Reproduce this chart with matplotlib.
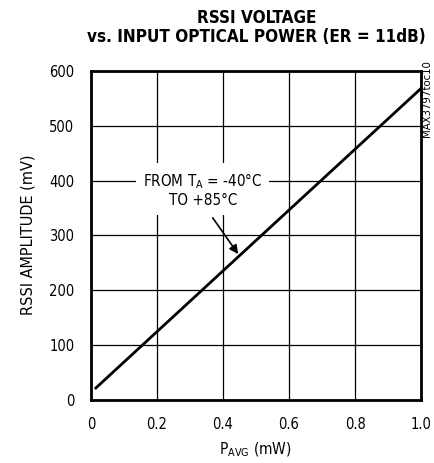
import os
import matplotlib.pyplot as plt
from matplotlib import font_manager as fm


# ---- find a condensed face (regular + bold) ----
def weight_of(f):
    w = f.weight
    if isinstance(w, str):
        w = fm.weight_dict.get(w, 400)
    return int(w)


def find_faces():
    good, other = [], []
    for f in fm.fontManager.ttflist:
        tag = (f.name + os.path.basename(f.fname)).replace(' ', '')
        if f.style != 'normal':
            continue
        if 'Condensed' not in tag and 'Narrow' not in tag:
            continue
        if 'SemiCondensed' in tag or 'ExtraCondensed' in tag or 'UltraCondensed' in tag:
            other.append(f)
        else:
            good.append(f)
    pool = good or other
    if not pool:
        return None, None
    reg = min(pool, key=lambda f: abs(weight_of(f) - 400))
    bold = min(pool, key=lambda f: abs(weight_of(f) - 700))
    return reg, bold


reg_face, bold_face = find_faces()
if reg_face is not None:
    plt.rcParams['font.family'] = [reg_face.name, 'DejaVu Sans']
    FP = fm.FontProperties(fname=reg_face.fname)
else:
    FP = fm.FontProperties(family='DejaVu Sans')
if bold_face is not None and weight_of(bold_face) >= 600:
    FPB = fm.FontProperties(fname=bold_face.fname)
else:
    FPB = fm.FontProperties(family=plt.rcParams['font.family'], weight='bold')

# data
p_avg = [0.015, 1.0]
rssi = [22, 568]
x_ticks = [0, 0.2, 0.4, 0.6, 0.8, 1.0]
x_labels = ['0', '0.2', '0.4', '0.6', '0.8', '1.0']
y_ticks = [0, 100, 200, 300, 400, 500, 600]
y_labels = ['0', '100', '200', '300', '400', '500', '600']

fig = plt.figure(figsize=(4.35, 4.63), dpi=100)
ax = fig.add_axes([0.209, 0.136, 0.759, 0.711])

ax.plot(p_avg, rssi, color='black', linewidth=2, zorder=3)

ax.set_xlim(0, 1.0)
ax.set_ylim(0, 600)
ax.set_xticks(x_ticks)
ax.set_xticklabels(x_labels)
ax.set_yticks(y_ticks)
ax.set_yticklabels(y_labels)
ax.grid(True, color='black', linewidth=0.9)
ax.tick_params(length=0, pad=12)
for s in ax.spines.values():
    s.set_linewidth(2)
ticklabels = ax.get_xticklabels() + ax.get_yticklabels()
for t in ticklabels:
    t.set_fontproperties(FP)
    t.set_fontsize(11)

t_title1 = fig.text(0.59, 0.961, 'RSSI VOLTAGE', ha='center', va='center',
                    fontproperties=FPB, fontsize=13)
t_title2 = fig.text(0.589, 0.920, 'vs. INPUT OPTICAL POWER (ER = 11dB)',
                    ha='center', va='center', fontproperties=FPB, fontsize=13)
t_code = fig.text(0.982, 0.870, 'MAX3797toc10', rotation=90, ha='center', va='top',
                  fontproperties=FP, fontsize=8)
t_ylab = fig.text(0.064, 0.492, 'RSSI AMPLITUDE (mV)', rotation=90,
                  ha='center', va='center', fontproperties=FP, fontsize=11)
t_xlab = fig.text(0.587, 0.028, 'P$_{\\mathregular{AVG}}$ (mW)',
                  ha='center', va='center', fontproperties=FP, fontsize=11)

t_note = ax.text(0.339, 383, 'FROM T$_{\\mathregular{A}}$ = -40°C\nTO +85°C',
                 ha='center', va='center', fontproperties=FP, fontsize=11,
                 linespacing=1.2, zorder=4,
                 bbox=dict(boxstyle='square,pad=0.45', fc='white', ec='none'))
ax.annotate('', xy=(0.446, 266), xytext=(0.369, 332),
            arrowprops=dict(arrowstyle='-|>', color='black', lw=1.2,
                            shrinkA=0, shrinkB=0, mutation_scale=13),
            zorder=5)


# scale text sizes to the widths measured on the reference
def fit(texts, probe, target, rotated=False):
    fig.canvas.draw()
    bb = probe.get_window_extent(fig.canvas.get_renderer())
    cur = bb.height if rotated else bb.width
    k = target / cur
    for t in texts:
        t.set_fontsize(t.get_fontsize() * k)


fit([t_title2, t_title1], t_title2, 338)
fit([t_code], t_code, 77, rotated=True)
fit([t_ylab], t_ylab, 160, rotated=True)
fit([t_xlab], t_xlab, 73)
ytl = ax.get_yticklabels()
fit(ticklabels, ytl[-1], 25)

# first line of the note is ~119 px wide on the reference
fig.canvas.draw()
tmp = fig.text(0, 0, 'FROM T$_{\\mathregular{A}}$ = -40°C', fontproperties=FP,
               fontsize=t_note.get_fontsize())
fig.canvas.draw()
w = tmp.get_window_extent(fig.canvas.get_renderer()).width
tmp.remove()
t_note.set_fontsize(t_note.get_fontsize() * 119 / w)

fig.savefig('out.png', dpi=100, facecolor='white')
